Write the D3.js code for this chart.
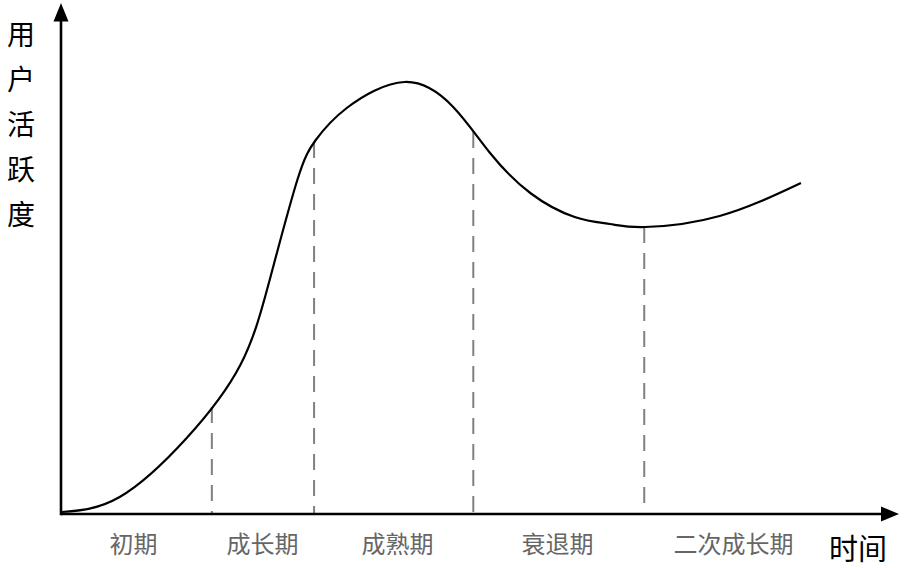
<!DOCTYPE html>
<html>
<head>
<meta charset="utf-8">
<script src="https://cdn.jsdelivr.net/npm/d3@7"></script>
<style>
  html, body { margin: 0; padding: 0; background: #fff; }
  svg { display: block; }
</style>
</head>
<body>
<svg id="chart" width="908" height="568"></svg>
<script>
// ---- data ----
const stages = ["初期", "成长期", "成熟期", "衰退期", "二次成长期"];
const stageCenters = [8.6, 24.0, 40.1, 59.2, 80.2];
const timeValues = [0.1, 7.0, 15.0, 21.4, 24.9, 28.2, 30.4, 34.1, 41.0, 46.8, 51.2, 56.0, 61.3, 65.5, 69.7, 78.6, 88.3];
const activityValues = [0.4, 3.4, 15.2, 29.8, 46.8, 66.8, 74.8, 81.2, 86.4, 81.4, 72.2, 64.2, 59.4, 58.0, 57.4, 59.6, 66.2];
const dividerTimes = [18.0, 30.2, 49.2, 69.6];
const dividerTops = [21.4, 74.4, 76.4, 57.4];
const dividerBottoms = [0, 0, 0, 1.4];
const yTitle = ["用", "户", "活", "跃", "度"];
const xTitle = "时间";

// ---- chart ----
const svg = d3.select("#chart");
const x = d3.scaleLinear().domain([0, 100]).range([61, 899]);
const y = d3.scaleLinear().domain([0, 100]).range([514, 14]);

const cjk = "'Noto Sans CJK SC', 'Noto Sans', sans-serif";

// dashed dividers
svg.append("g").selectAll("line")
  .data(dividerTimes)
  .join("line")
  .attr("x1", d => x(d)).attr("x2", d => x(d))
  .attr("y1", (d, i) => y(dividerTops[i]))
  .attr("y2", (d, i) => y(dividerBottoms[i]))
  .attr("stroke", "#808080")
  .attr("stroke-width", 2)
  .attr("stroke-dasharray", "16,10");

// curve
const pts = timeValues.map((t, i) => [t, activityValues[i]]);
svg.append("path")
  .datum(pts)
  .attr("fill", "none")
  .attr("stroke", "#000")
  .attr("stroke-width", 2.2)
  .attr("d", d3.line().x(d => x(d[0])).y(d => y(d[1])).curve(d3.curveNatural));

// x axis (stage labels as ticks)
const xAxis = d3.axisBottom(x)
  .tickValues(stageCenters)
  .tickFormat((d, i) => stages[i])
  .tickSize(0)
  .tickSizeOuter(0)
  .tickPadding(20);
const gx = svg.append("g").attr("transform", `translate(0,${y(0)})`).call(xAxis);
gx.select(".domain").attr("stroke", "#000").attr("stroke-width", 2.6)
  .attr("d", `M${x(0)},0H${x(100) - 14}`);
gx.selectAll("text")
  .attr("font-family", cjk)
  .attr("font-size", 24)
  .attr("fill", "#666666")
  .attr("dy", null)
  .attr("y", 39);

// x arrow
const xEnd = x(100);
svg.append("path")
  .attr("d", `M${xEnd},${y(0)} L${xEnd - 18},${y(0) - 7.5} L${xEnd - 18},${y(0) + 7.5} Z`)
  .attr("fill", "#000");

// y axis
const yAxis = d3.axisLeft(y).tickValues([]).tickSizeOuter(0);
const gy = svg.append("g").attr("transform", `translate(${x(0)},0)`).call(yAxis);
const yTop = y(102.2);
gy.select(".domain").attr("stroke", "#000").attr("stroke-width", 2.6)
  .attr("d", `M0,${y(0) + 1.3}V${yTop + 14}`);
svg.append("path")
  .attr("d", `M${x(0)},${yTop} L${x(0) - 7.5},${yTop + 18.5} L${x(0) + 7.5},${yTop + 18.5} Z`)
  .attr("fill", "#000");

// y title (vertical, stacked characters)
svg.append("g").selectAll("text")
  .data(yTitle)
  .join("text")
  .attr("x", 21)
  .attr("y", (d, i) => 45 + i * 45)
  .attr("text-anchor", "middle")
  .attr("font-family", cjk)
  .attr("font-size", 28)
  .attr("fill", "#000")
  .text(d => d);

// x title
svg.append("text")
  .attr("x", 858)
  .attr("y", 560)
  .attr("text-anchor", "middle")
  .attr("font-family", cjk)
  .attr("font-size", 29)
  .attr("fill", "#000")
  .text(xTitle);
</script>
</body>
</html>
